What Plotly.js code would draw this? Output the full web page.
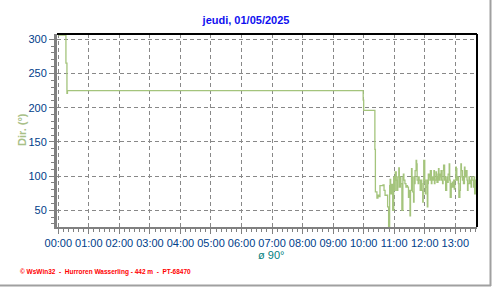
<!DOCTYPE html>
<html>
<head>
<meta charset="utf-8">
<script src="https://cdn.plot.ly/plotly-3.0.1.min.js"></script>
<style>html,body{margin:0;padding:0;background:#fff;}#chart{width:492px;height:287px;}</style>
</head>
<body>
<div id="chart"></div>
<script>
// Wind direction (°) samples, 01/05/2025
const day = "2025-05-01";
const times = [
  "00:00","00:15","00:17","00:18","09:59","10:00","10:22",
  "10:23","10:26","10:28","10:30","10:32","10:38","10:40","10:42","10:46","10:47",
  "10:49","10:51","10:52","10:53","10:55","10:57","10:59","11:00","11:02","11:04",
  "11:05","11:07","11:09","11:10","11:12","11:13","11:15","11:17","11:18","11:19",
  "11:21","11:23","11:25","11:26","11:28","11:30","11:31","11:32","11:34","11:35",
  "11:36","11:38","11:39","11:40","11:41","11:43","11:44","11:45","11:47","11:48",
  "11:49","11:51","11:52","11:53","11:54","11:56","11:57","11:58","12:00","12:01",
  "12:02","12:04","12:05","12:06","12:07","12:09","12:10","12:11","12:13","12:14",
  "12:15","12:17","12:18","12:19","12:20","12:22","12:23","12:24","12:26","12:27",
  "12:28","12:30","12:31","12:32","12:33","12:35","12:36","12:37","12:39","12:40",
  "12:41","12:43","12:44","12:45","12:46","12:48","12:49","12:50","12:52","12:53",
  "12:54","12:56","12:57","12:58","12:59","13:01","13:02","13:03","13:05","13:06",
  "13:07","13:09","13:10","13:11","13:12","13:14","13:15","13:16","13:18","13:19",
  "13:20","13:22","13:23","13:24","13:25","13:27","13:28","13:29","13:31","13:32",
  "13:33","13:35","13:36","13:37","13:38","13:40","13:41","13:43"
];
const direction = [
  306,265,221,225,211,196,139,
  77,68,72,70,86,87,79,72,72,55,
  26,86,95,74,88,50,99,79,106,94,
  79,99,112,84,99,89,50,99,103,94,
  89,84,86,84,69,79,42,79,111,99,
  77,62,99,89,108,123,118,94,89,99,
  94,79,89,94,79,62,89,123,94,74,
  84,94,55,89,103,99,94,108,89,94,
  99,94,108,89,94,106,99,91,103,111,
  94,103,99,108,94,89,108,116,94,99,
  79,94,99,91,103,118,94,69,89,84,
  91,84,94,81,94,113,111,94,99,89,
  69,79,99,118,108,94,99,89,113,108,
  99,108,94,79,89,99,89,94,84,99,
  94,94,84,99,74,94,86,86
];
const chartTitle = "jeudi, 01/05/2025";
const yTitle = "Dir. (°)";
const meanLabel = "ø 90°";
const footer = "© WsWin32  -  Hurroren Wasserling - 442 m  -  PT-68470";

const L = 57, R = 477, T = 34, B = 227, W = 492, H = 287;
const px = x => (x - L) / (R - L);
const py = y => (B - y) / (B - T);

const trace = {
  x: times.map(t => day + " " + t),
  y: direction,
  type: "scatter",
  mode: "lines",
  line: {color: "#a4c47c", width: 1.3, shape: "hv"},
  hoverinfo: "skip"
};

const tickFont = {family: "Liberation Sans, Arial, sans-serif", size: 11, color: "#00408a"};
const layout = {
  width: W, height: H,
  margin: {l: L, r: W - R, t: T, b: H - B, pad: 0},
  paper_bgcolor: "#ffffff", plot_bgcolor: "#ffffff",
  showlegend: false,
  title: {text: chartTitle, x: 0.5, xref: "container", xanchor: "center",
          y: 1 - 20 / H, yref: "container", yanchor: "middle",
          font: {family: "Liberation Sans, Arial, sans-serif", size: 11, weight: "bold", color: "#1010f0"}},
  xaxis: {
    type: "date",
    range: ["2025-04-30 23:57:27", "2025-05-01 13:42:38"],
    tick0: "2025-05-01 00:00", dtick: 3600000, tickformat: "%H:%M",
    ticks: "outside", ticklen: 5, tickwidth: 1, tickcolor: "#808080",
    showline: true, linecolor: "#808080", linewidth: 2,
    showgrid: true, gridcolor: "#888888", gridwidth: 1, griddash: "4px,3px",
    zeroline: false, tickfont: tickFont, fixedrange: true,
    minor: {dtick: 600000, ticks: "outside", ticklen: 3, tickcolor: "#808080", showgrid: false}
  },
  yaxis: {
    range: [25.6, 307.7], tick0: 0, dtick: 50,
    ticks: "outside", ticklen: 5, tickwidth: 1, tickcolor: "#808080",
    showline: true, linecolor: "#808080", linewidth: 3,
    showgrid: true, gridcolor: "#888888", gridwidth: 1, griddash: "4px,3px",
    zeroline: false, tickfont: tickFont, fixedrange: true,
    minor: {dtick: 10, ticks: "outside", ticklen: 3, tickcolor: "#808080", showgrid: false}
  },
  shapes: [
    {type: "line", xref: "paper", yref: "paper", x0: 0, x1: 1, y0: 1, y1: 1, line: {color: "#000000", width: 2}},
    {type: "line", xref: "paper", yref: "paper", x0: 1, x1: 1, y0: 0, y1: 1, line: {color: "#000000", width: 2}},
    {type: "line", xref: "paper", yref: "paper", x0: px(0), x1: px(491), y0: py(285.5), y1: py(285.5), line: {color: "#a0a0a0", width: 2}},
    {type: "line", xref: "paper", yref: "paper", x0: px(490.5), x1: px(490.5), y0: py(286), y1: py(0), line: {color: "#a0a0a0", width: 2}}
  ],
  annotations: [
    {text: yTitle, xref: "paper", yref: "paper", x: px(22), y: py(130), xanchor: "center", yanchor: "middle",
     textangle: -90, showarrow: false,
     font: {family: "Liberation Sans, Arial, sans-serif", size: 11, weight: "bold", color: "#a8c088"}},
    {text: meanLabel, xref: "paper", yref: "paper", x: px(271), y: py(255), xanchor: "center", yanchor: "middle",
     showarrow: false, font: {family: "Liberation Sans, Arial, sans-serif", size: 11, color: "#008080"}},
    {text: footer, xref: "paper", yref: "paper", x: px(18), y: py(271.5), xanchor: "left", yanchor: "middle",
     showarrow: false, font: {family: "Liberation Sans, Arial, sans-serif", size: 6.5, weight: "bold", color: "#ff0000"}}
  ]
};

Plotly.newPlot("chart", [trace], layout, {staticPlot: true, displayModeBar: false});
</script>
</body>
</html>
